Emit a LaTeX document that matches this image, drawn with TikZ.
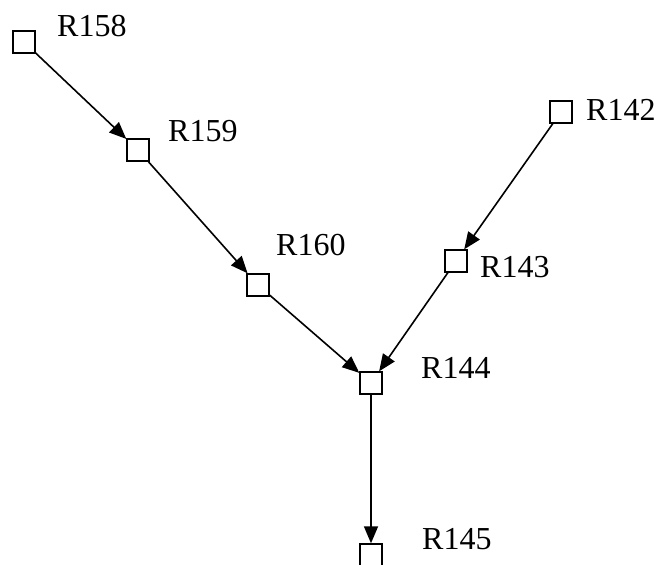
\documentclass[tikz,border=0pt]{standalone}
\usepackage{fontspec}
\setmainfont{Liberation Serif}
\usetikzlibrary{arrows.meta}
\begin{document}
\begin{tikzpicture}[x=1pt,y=-1pt,
  box/.style={draw=black,line width=1.4pt,minimum size=22pt,inner sep=0pt,fill=white},
  lbl/.style={anchor=base west,inner sep=0pt,font=\fontsize{32}{38}\selectfont},
  edge/.style={line width=1.6pt,-{Triangle[length=17pt,width=14pt]}}]
\useasboundingbox (0,0) rectangle (657,565);
\node[box] (R158) at (24,42) {};
\node[box] (R159) at (138,150) {};
\node[box] (R160) at (258,285) {};
\node[box] (R142) at (561,112) {};
\node[box] (R143) at (456,261) {};
\node[box] (R144) at (371,383) {};
\node[box] (R145) at (371,555) {};
\node[lbl] (L158) at (57,36) {R158};
\node[lbl] (L159) at (168,141) {R159};
\node[lbl] (L160) at (276,255) {R160};
\node[lbl] (L142) at (586,120) {R142};
\node[lbl] (L143) at (480,277) {R143};
\node[lbl] (L144) at (421,378) {R144};
\node[lbl] (L145) at (422,549) {R145};
\draw[edge] (R158) -- (R159);
\draw[edge] (R159) -- (R160);
\draw[edge] (R160) -- (R144);
\draw[edge] (R142) -- (R143);
\draw[edge] (R143) -- (R144);
\draw[edge] (R144) -- (R145);
\end{tikzpicture}
\end{document}
